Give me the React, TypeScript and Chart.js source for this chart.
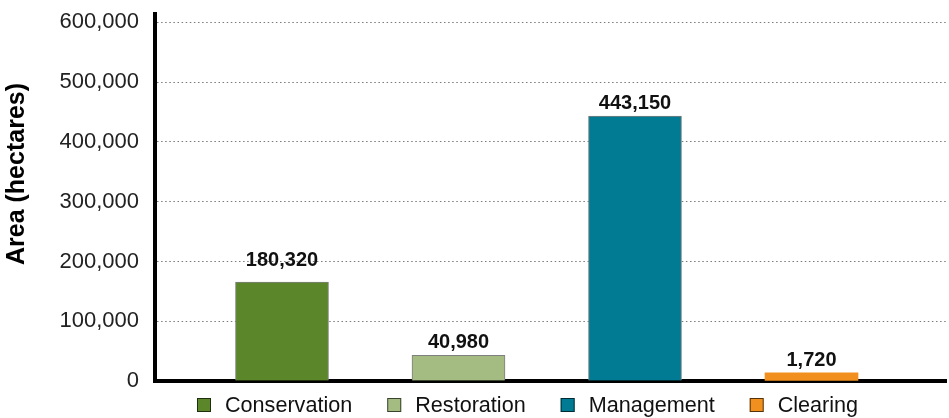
import React, { useEffect, useRef } from 'react';
import { Chart, registerables } from 'chart.js';

Chart.register(...registerables);

// ---- data ----
const categories = ['Conservation', 'Restoration', 'Management', 'Clearing'];
// bar heights as drawn in the reference
const barValues = [165500, 43000, 443150, 13500];
// values printed above the bars
const labelValues = [180320, 40980, 443150, 1720];
const yTickValues = [0, 100000, 200000, 300000, 400000, 500000, 600000];
const yAxisTitle = 'Area (hectares)';

// ---- styles ----
const fillColors = ['#5b8629', '#a4bc82', '#007b93', '#f1901f'];
const barBorderColors = ['#7f7f7f', '#7f7f7f', '#7f7f7f', 'rgba(0,0,0,0)'];
const barBorderWidths = [1, 1, 1, 0];
const FONT = '"Liberation Sans", Arial, Helvetica, sans-serif';

const labelsPlugin = {
  id: 'valueLabels',
  afterDatasetsDraw(chart: any) {
    const ctx = chart.ctx;
    const meta = chart.getDatasetMeta(0);
    const yScale = chart.scales.y;
    ctx.save();
    ctx.font = `bold 20px ${FONT}`;
    ctx.fillStyle = '#111';
    ctx.textAlign = 'center';
    ctx.textBaseline = 'alphabetic';
    meta.data.forEach((el: any, i: number) => {
      const y = Math.min(el.y, yScale.getPixelForValue(labelValues[i]));
      ctx.fillText(labelValues[i].toLocaleString('en-US'), el.x, y - 7);
    });
    ctx.restore();
  },
};

const titleAndLegendPlugin = {
  id: 'titleLegend',
  afterDraw(chart: any) {
    const ctx = chart.ctx;
    const area = chart.chartArea;
    // y axis title
    ctx.save();
    ctx.translate(17, 174);
    ctx.rotate(-Math.PI / 2);
    ctx.font = `bold 25px ${FONT}`;
    ctx.fillStyle = '#000';
    ctx.textAlign = 'center';
    ctx.textBaseline = 'middle';
    ctx.fillText(yAxisTitle, 0, 0);
    ctx.restore();
    // legend
    ctx.save();
    ctx.font = `21.6px ${FONT}`;
    ctx.textBaseline = 'middle';
    ctx.textAlign = 'left';
    const cy = area.bottom + 24;
    let x = area.left + 42;
    categories.forEach((c, i) => {
      ctx.fillStyle = fillColors[i];
      ctx.fillRect(x, cy - 7, 14, 14);
      ctx.strokeStyle = 'rgba(0,0,0,0.65)';
      ctx.lineWidth = 1;
      ctx.strokeRect(x + 0.5, cy - 6.5, 13, 13);
      ctx.fillStyle = '#111';
      ctx.fillText(c, x + 28, cy + 1);
      x += 28 + ctx.measureText(c).width + 35;
    });
    ctx.restore();
  },
};

export default function App() {
  const ref = useRef<HTMLCanvasElement | null>(null);
  useEffect(() => {
    if (!ref.current) return;
    const chart = new Chart(ref.current, {
      type: 'bar',
      data: {
        datasets: [
          {
            label: 'Area',
            data: categories.map((c, i) => ({ x: i, y: barValues[i] })) as any,
            backgroundColor: fillColors,
            borderColor: barBorderColors,
            borderWidth: barBorderWidths,
            barThickness: 93,
          },
        ],
      },
      options: {
        responsive: false,
        animation: false,
        events: [],
        layout: { padding: { left: 0, right: 3, top: 14, bottom: 37 } },
        plugins: { legend: { display: false }, tooltip: { enabled: false } },
        scales: {
          x: {
            type: 'linear',
            offset: false,
            min: -0.7195,
            max: 3.762,
            z: 2,
            grid: { display: false, drawTicks: false },
            ticks: { display: false },
            border: { display: true, color: '#000', width: 4 },
          },
          y: {
            type: 'linear',
            min: 0,
            max: 614000,
            z: 1,
            afterFit: (s: any) => {
              s.width = 155;
            },
            afterBuildTicks: (s: any) => {
              s.ticks = yTickValues.map((v) => ({ value: v }));
            },
            grid: {
              color: (c: any) => (c.tick && c.tick.value === 0 ? 'rgba(0,0,0,0)' : '#7a7a7a'),
              lineWidth: 1,
              drawTicks: true,
              tickLength: 16,
              tickColor: 'rgba(0,0,0,0)',
            },
            border: { display: true, color: '#000', width: 4, dash: [1.5, 2.6] },
            ticks: {
              padding: 0,
              color: '#222',
              font: { family: FONT, size: 22 },
              callback: (v: any) => Number(v).toLocaleString('en-US'),
            },
          },
        },
      } as any,
      plugins: [labelsPlugin, titleAndLegendPlugin],
    });
    return () => chart.destroy();
  }, []);
  return (
    <div style={{ position: 'absolute', left: 0, top: 0, width: 949, height: 418 }}>
      <canvas ref={ref} width={949} height={418} style={{ display: 'block' }} />
    </div>
  );
}
